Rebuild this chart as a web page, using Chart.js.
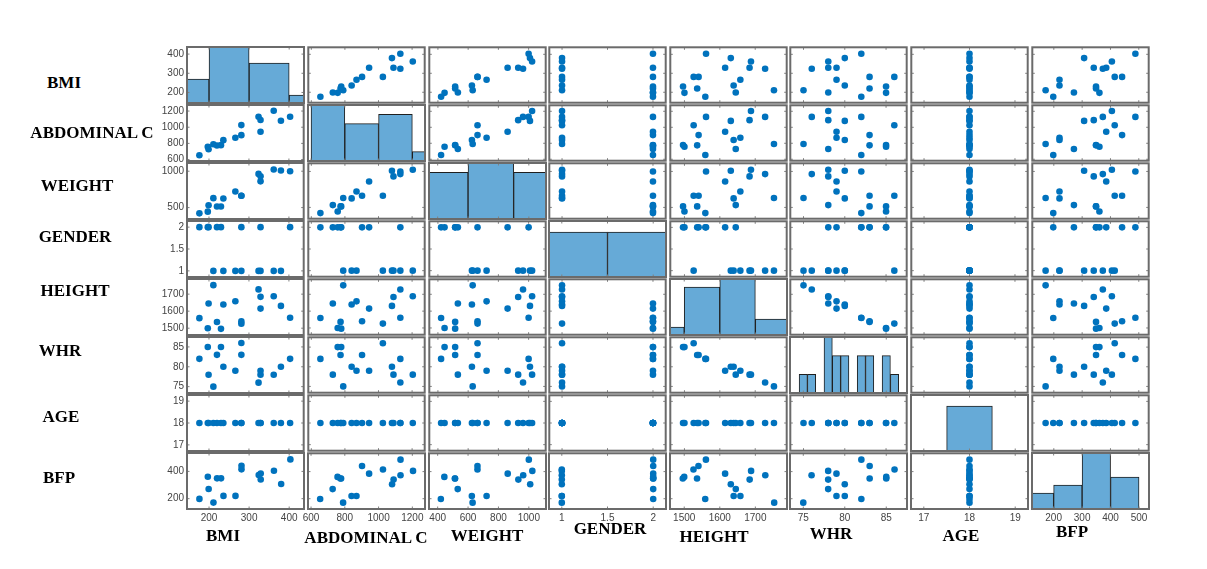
<!DOCTYPE html>
<html>
<head>
<meta charset="utf-8">
<script src="https://cdn.jsdelivr.net/npm/chart.js@4.4.0/dist/chart.umd.min.js"></script>
<style>
html, body { margin:0; padding:0; background:#fff; width:1207px; height:569px; overflow:hidden; position:relative; }
.cell { position:absolute; }
.lab { position:absolute; font-family:'Liberation Serif','Times New Roman',serif; font-weight:bold; font-size:17px; color:#000; white-space:nowrap; transform:translate(-50%,-50%); }
</style>
</head>
<body>
<script>
// ---------- data (16 subjects) ----------
const variableNames = ['BMI', 'ABDOMINAL C', 'WEIGHT', 'GENDER', 'HEIGHT', 'WHR', 'AGE', 'BFP'];

const bmiValues    = [403, 380, 362, 329, 329, 324, 281, 281, 266, 236, 230, 220, 211, 197, 199, 176];
const abdValues    = [1130, 1080, 1204, 944, 1089, 1130, 1026, 902, 869, 840, 778, 774, 790, 757, 728, 654];
const weightValues = [1000, 1009, 1023, 861, 931, 963, 662, 662, 722, 625, 514, 514, 630, 444, 532, 421];
const genderValues = [2, 1, 1, 2, 1, 1, 1, 2, 1, 1, 2, 2, 1, 2, 2, 2];
const heightValues = [1561, 1631, 1688, 1615, 1684, 1728, 1526, 1540, 1658, 1639, 1496, 1536, 1753, 1500, 1645, 1559];
const whrValues    = [82, 80, 78, 79, 78, 76, 86, 83, 79, 80, 85, 83, 75, 85, 78, 82];
const ageValues    = [18, 18, 18, 18, 18, 18, 18, 18, 18, 18, 18, 18, 18, 18, 18, 18];
const bfpValues    = [488, 307, 405, 385, 341, 373, 415, 441, 220, 220, 349, 349, 171, 361, 271, 198];

// axis limits of each variable
const bmiLimits    = [145, 437];
const abdLimits    = [582, 1275];
const weightLimits = [343, 1113];
const genderLimits = [0.86, 2.14];
const heightLimits = [1460, 1789];
const whrLimits    = [73.4, 87.5];
const ageLimits    = [16.72, 19.28];
const bfpLimits    = [124, 535];

// tick labels (left axis / bottom axis)
const bmiYTicks = [200, 300, 400],          bmiXTicks = [200, 300, 400];
const abdYTicks = [600, 800, 1000, 1200],   abdXTicks = [600, 800, 1000, 1200];
const weightYTicks = [500, 1000],           weightXTicks = [400, 600, 800, 1000];
const genderYTicks = [1, 1.5, 2],           genderXTicks = [1, 1.5, 2];
const heightYTicks = [1500, 1600, 1700],    heightXTicks = [1500, 1600, 1700];
const whrYTicks = [75, 80, 85],             whrXTicks = [75, 80, 85];
const ageYTicks = [17, 18, 19],             ageXTicks = [17, 18, 19];
const bfpYTicks = [200, 400],               bfpXTicks = [200, 300, 400, 500];

// histograms on the diagonal (bin centres and counts)
const bmiBinCenters = [150, 250, 350, 450];          const bmiBinCounts = [3, 7, 5, 1];       const bmiHistMax = 7;
const abdBinCenters = [700, 900, 1100, 1300];        const abdBinCounts = [6, 4, 5, 1];       const abdHistMax = 6;
const weightBinCenters = [450, 750, 1050];           const weightBinCounts = [5, 6, 5];       const weightHistMax = 6;
const genderBinCenters = [1, 2];                     const genderBinCounts = [8, 8];          const genderHistMax = 10;
const heightBinCenters = [1450, 1550, 1650, 1750];   const heightBinCounts = [1, 6, 7, 2];    const heightHistMax = 7;
const whrBinCenters = [75, 76, 77, 78, 79, 80, 81, 82, 83, 84, 85, 86];
const whrBinCounts  = [1, 1, 0, 3, 2, 2, 0, 2, 2, 0, 2, 1];                                   const whrHistMax = 3;
const ageBinCenters = [17, 18, 19];                  const ageBinCounts = [0, 16, 0];         const ageHistMax = 20;
const bfpBinCenters = [150, 250, 350, 450];          const bfpBinCounts = [2, 3, 7, 4];       const bfpHistMax = 7;

// ---------- assembly ----------
const values  = [bmiValues, abdValues, weightValues, genderValues, heightValues, whrValues, ageValues, bfpValues];
const limits  = [bmiLimits, abdLimits, weightLimits, genderLimits, heightLimits, whrLimits, ageLimits, bfpLimits];
const yTicks  = [bmiYTicks, abdYTicks, weightYTicks, genderYTicks, heightYTicks, whrYTicks, ageYTicks, bfpYTicks];
const xTicks  = [bmiXTicks, abdXTicks, weightXTicks, genderXTicks, heightXTicks, whrXTicks, ageXTicks, bfpXTicks];
const binCenters = [bmiBinCenters, abdBinCenters, weightBinCenters, genderBinCenters, heightBinCenters, whrBinCenters, ageBinCenters, bfpBinCenters];
const binCounts  = [bmiBinCounts, abdBinCounts, weightBinCounts, genderBinCounts, heightBinCounts, whrBinCounts, ageBinCounts, bfpBinCounts];
const histMax    = [bmiHistMax, abdHistMax, weightHistMax, genderHistMax, heightHistMax, whrHistMax, ageHistMax, bfpHistMax];

// layout
const PAD = 3, YLAB = 40, XLAB = 20, SIDE = 14;
const CW = 117, CH = 56;
const colLeft = k => Math.round(187.3 + k * 120.6);
const rowTop  = k => Math.round(46.7 + k * 58.1);

const tickFont = { family: "'Liberation Sans', Arial, sans-serif", size: 10 };
const tickColor = '#444444';

const framePlugin = {
  id: 'frame',
  afterDatasetsDraw(chart, args, opts) {
    const { ctx, chartArea: a } = chart;
    ctx.save();
    ctx.strokeStyle = '#808080';
    ctx.lineWidth = 1;
    ctx.beginPath();
    const xs = chart.scales[opts.xScale];
    if (xs) opts.xTicks.forEach(v => {
      const p = xs.getPixelForValue(v);
      ctx.moveTo(p, a.top); ctx.lineTo(p, a.top + 2.5);
      ctx.moveTo(p, a.bottom); ctx.lineTo(p, a.bottom - 2.5);
    });
    const ys = opts.yScale ? chart.scales[opts.yScale] : null;
    if (ys) opts.yTicks.forEach(v => {
      const p = ys.getPixelForValue(v);
      ctx.moveTo(a.left, p); ctx.lineTo(a.left + 2.5, p);
      ctx.moveTo(a.right, p); ctx.lineTo(a.right - 2.5, p);
    });
    ctx.stroke();
    ctx.strokeStyle = '#6b6b6b';
    ctx.lineWidth = 2;
    ctx.strokeRect(a.left, a.top, a.right - a.left, a.bottom - a.top);
    ctx.restore();
  }
};

function hiddenScale(lim) {
  return {
    type: 'linear', min: lim[0], max: lim[1], display: false, offset: false,
    grid: { display: false, offset: false },
    afterBuildTicks: s => { s.ticks = [{ value: s.min }, { value: s.max }]; }
  };
}

function labelScale(axis, lim, ticks) {
  const sc = {
    type: 'linear', axis: axis, position: axis === 'x' ? 'bottom' : 'left',
    min: lim[0], max: lim[1], display: true, offset: false,
    grid: { display: false, drawTicks: false },
    border: { display: false },
    ticks: { font: tickFont, color: tickColor, padding: 3, autoSkip: false, maxRotation: 0, minRotation: 0,
             callback: v => String(v) },
    afterBuildTicks: s => { s.ticks = ticks.map(v => ({ value: v })); }
  };
  if (axis === 'x') sc.afterFit = s => { s.height = XLAB; s.paddingLeft = 0; s.paddingRight = 0; };
  else sc.afterFit = s => { s.width = YLAB; s.paddingTop = 0; s.paddingBottom = 0; };
  return sc;
}

for (let i = 0; i < 8; i++) {       // row variable (y)
  for (let j = 0; j < 8; j++) {     // column variable (x)
    const extraL = j === 0 ? YLAB : 0;
    const extraB = i === 7 ? XLAB : 0;
    const side = i === 7 ? SIDE : 0;      // room for overhanging x labels
    const vside = j === 0 ? 8 : 0;        // room for overhanging y labels
    const div = document.createElement('div');
    div.className = 'cell';
    div.style.left = (colLeft(j) - PAD - extraL - side) + 'px';
    div.style.top = (rowTop(i) - PAD - vside) + 'px';
    div.style.width = (CW + 2 * PAD + extraL + 2 * side) + 'px';
    div.style.height = (CH + 2 * PAD + extraB + 2 * vside) + 'px';
    const cv = document.createElement('canvas');
    div.appendChild(cv);
    document.body.appendChild(div);

    const isHist = i === j;
    const scales = {
      x: hiddenScale(limits[j]),
      y: isHist ? hiddenScale([0, histMax[i]]) : hiddenScale(limits[i])
    };
    if (i === 7) scales.xl = labelScale('x', limits[j], xTicks[j]);
    if (j === 0) scales.yl = labelScale('y', limits[i], yTicks[i]);

    let type, datasets;
    if (isHist) {
      type = 'bar';
      datasets = [{
        data: binCenters[i].map((c, k) => ({ x: c, y: binCounts[i][k] })),
        backgroundColor: '#66AAD7',
        borderColor: '#1f1f1f',
        borderWidth: c => (c.raw && c.raw.y > 0 ? 1 : 0),
        borderSkipped: false,
        barPercentage: 1,
        categoryPercentage: 1,
        clip: 0,
        xAxisID: 'x', yAxisID: 'y'
      }];
    } else {
      type = 'scatter';
      datasets = [{
        data: values[j].map((v, k) => ({ x: v, y: values[i][k] })),
        backgroundColor: '#0072BD',
        borderWidth: 0,
        pointRadius: 3.3,
        pointHoverRadius: 3.3,
        xAxisID: 'x', yAxisID: 'y'
      }];
    }

    new Chart(cv, {
      type: type,
      data: { datasets: datasets },
      options: {
        responsive: true,
        maintainAspectRatio: false,
        animation: false,
        events: [],
        layout: { padding: { left: PAD + side, right: PAD + side, top: PAD + vside, bottom: PAD + vside } },
        scales: scales,
        plugins: {
          legend: { display: false },
          tooltip: { enabled: false },
          frame: {
            xScale: 'x', xTicks: xTicks[j],
            yScale: isHist ? (j === 0 ? 'yl' : null) : 'y', yTicks: yTicks[i]
          }
        }
      },
      plugins: [framePlugin]
    });
  }
}

// ---------- variable labels ----------
const leftLabelPos   = [[64, 83], [92, 133], [77, 186], [75, 237], [75, 291], [60, 351], [61, 417], [59, 478]];
const bottomLabelPos = [[223, 536], [366, 538], [487, 536], [610, 529], [714, 537], [831, 534], [961, 536], [1072, 532]];
variableNames.forEach((name, k) => {
  const l = document.createElement('div');
  l.className = 'lab';
  l.textContent = name;
  l.style.left = leftLabelPos[k][0] + 'px';
  l.style.top = leftLabelPos[k][1] + 'px';
  document.body.appendChild(l);
  const b = document.createElement('div');
  b.className = 'lab';
  b.textContent = name;
  b.style.left = bottomLabelPos[k][0] + 'px';
  b.style.top = bottomLabelPos[k][1] + 'px';
  document.body.appendChild(b);
});
</script>
</body>
</html>
